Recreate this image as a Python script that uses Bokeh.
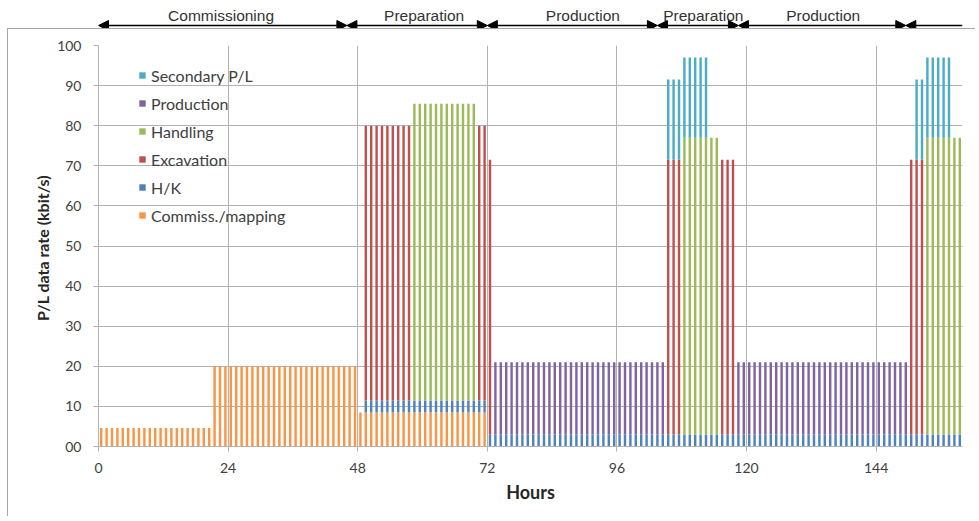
from bokeh.plotting import figure
from bokeh.layouts import column
from bokeh.models import (Range1d, FixedTicker, Legend, LegendItem, Arrow, NormalHead,
                          Label, ColumnDataSource)
from bokeh.transform import dodge
from bokeh.embed import file_html
from bokeh.resources import INLINE

# ---------------- data (hourly, 160 hours) ----------------
hours = list(range(160))
commiss = [4.6] * 21 + [20] * 27 + [8.5] * 24 + [0] * 88
hk = [0] * 49 + [3] * 111
excavation = ([0] * 49 + [68.5] * 9 + [0] * 12 + [68.5] * 2 + [68.5] + [0] * 32 +
              [68.5] * 3 + [0] * 7 + [68.5] * 3 + [0] * 32 + [68.5] * 3 + [0] * 7)
handling = ([0] * 58 + [74] * 12 + [0] * 3 + [0] * 32 + [0] * 3 + [74] * 7 +
            [0] * 3 + [0] * 32 + [0] * 3 + [74] * 7)
production = [0] * 73 + [18] * 32 + [0] * 13 + [18] * 32 + [0] * 10
secondary = [0] * 105 + [20] * 8 + [0] * 38 + [20] * 7 + [0] * 2

series_names = ["Commiss./mapping", "H/K", "Excavation", "Handling", "Production", "Secondary P/L"]
series_keys = ["commiss", "hk", "excavation", "handling", "production", "secondary"]
series_colors = ["#F79646", "#4F81BD", "#C0504D", "#9BBB59", "#8064A2", "#4BACC6"]

x_ticks = [0, 24, 48, 72, 96, 120, 144]
y_ticks = [0, 10, 20, 30, 40, 50, 60, 70, 80, 90, 100]
y_tick_labels = {0: "00"}

phase_bounds = [0, 46, 72, 103.5, 118.5, 149.5, 160]
phase_labels = ["Commissioning", "Preparation", "Production", "Preparation", "Production"]
phase_label_x = [22.7, 60.3, 89.7, 112.0, 134.2]

x_range = Range1d(0, 160)

# ---------------- header with phase arrows ----------------
hdr = figure(width=968, height=28, output_backend="svg", toolbar_location=None,
             x_range=x_range, y_range=Range1d(0, 28), x_axis_type=None, y_axis_type=None,
             min_border_left=90, min_border_right=14, min_border_top=0, min_border_bottom=0)
hdr.margin = (0, 0, 0, 7)
hdr.styles = {"border-left": "1.5px solid transparent"}
hdr.outline_line_color = None
hdr.grid.visible = False
arrow_y = 3.0
for i in range(len(phase_bounds) - 1):
    last = i == len(phase_bounds) - 2
    hdr.add_layout(Arrow(x_start=phase_bounds[i], x_end=phase_bounds[i + 1],
                         y_start=arrow_y, y_end=arrow_y,
                         start=NormalHead(size=10, fill_color="black", line_color="black"),
                         end=None if last else NormalHead(size=10, fill_color="black", line_color="black"),
                         line_color="black", line_width=1.5))
for lx, lt in zip(phase_label_x, phase_labels):
    hdr.add_layout(Label(x=lx, y=13.5, text=lt, text_align="center", text_baseline="middle",
                         text_font="Liberation Sans", text_font_size="15.5px", text_color="#333333"))

# ---------------- main chart ----------------
source = ColumnDataSource(dict(hour=hours, commiss=commiss, hk=hk, excavation=excavation,
                               handling=handling, production=production, secondary=secondary))

p = figure(width=968, height=488, output_backend="svg", toolbar_location=None,
           x_range=x_range, y_range=Range1d(0, 100),
           min_border_left=90, min_border_right=14, min_border_top=16, min_border_bottom=71)
p.margin = (0, 0, 0, 7)
p.styles = {"border-top": "1.5px solid #a6a6a6", "border-left": "1.5px solid #a6a6a6"}
p.outline_line_color = None

renderers = p.vbar_stack(series_keys, x=dodge("hour", 0.5, range=p.x_range), width=0.45,
                         color=series_colors, line_color=None, source=source)

grid_col = "#b2b2b2"
p.xaxis.ticker = FixedTicker(ticks=x_ticks)
p.yaxis.ticker = FixedTicker(ticks=y_ticks)
p.yaxis.major_label_overrides = y_tick_labels
p.xgrid.ticker = FixedTicker(ticks=x_ticks)
p.ygrid.ticker = FixedTicker(ticks=y_ticks)
p.xgrid.grid_line_color = grid_col
p.ygrid.grid_line_color = grid_col
for ax in (p.xaxis, p.yaxis):
    ax.axis_line_color = grid_col
    ax.major_tick_line_color = grid_col
    ax.major_tick_in = 0
    ax.major_tick_out = 5
    ax.minor_tick_line_color = None
    ax.major_label_text_font = "Lato"
    ax.major_label_text_font_size = "14px"
    ax.major_label_text_color = "#404040"
    ax.axis_label_text_font = "Lato"
    ax.axis_label_text_font_style = "bold"
    ax.axis_label_text_color = "#262626"
p.yaxis.major_label_standoff = 12
p.xaxis.major_label_standoff = 11
p.xaxis.axis_label = "Hours"
p.xaxis.axis_label_text_font_size = "18px"
p.xaxis.axis_label_standoff = 5
p.yaxis.axis_label = "P/L data rate  (kbit/s)"
p.yaxis.axis_label_text_font_size = "16px"
p.yaxis.axis_label_standoff = 2

items = [LegendItem(label=n, renderers=[r]) for n, r in zip(series_names, renderers)][::-1]
legend = Legend(items=items, location=(40, 220), padding=0, margin=0, spacing=6,
                label_height=22, glyph_height=8, glyph_width=8, label_standoff=5,
                label_text_font="Lato", label_text_font_size="16px", label_text_color="#404040",
                background_fill_alpha=0, border_line_alpha=0)
p.add_layout(legend, "center")

layout = column(hdr, p)
open("out.html", "w").write(file_html(layout, INLINE))
